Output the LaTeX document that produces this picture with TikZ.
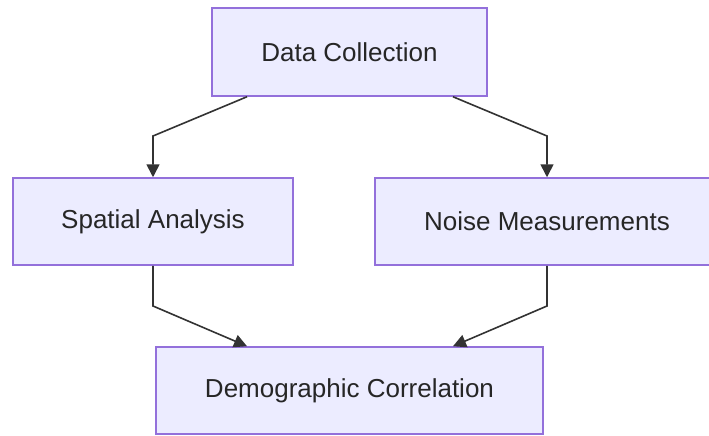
\documentclass[tikz,border=0pt]{standalone}
\usepackage{fontspec}
\setmainfont{Liberation Sans}
\usetikzlibrary{arrows.meta,calc}
\definecolor{boxfill}{HTML}{ECECFF}
\definecolor{boxline}{HTML}{9370DB}
\definecolor{edgeline}{HTML}{333333}
\begin{document}
\begin{tikzpicture}[x=1pt,y=-1pt,
  box/.style={draw=boxline,fill=boxfill,line width=1.5pt,inner sep=0pt,
    font=\fontsize{26}{30}\selectfont,text=black!85},
  edge/.style={draw=edgeline,line width=1.6pt,-{Triangle[length=13pt,width=13pt]}}]
\fill[white] (0,0) rectangle (709,436);
\useasboundingbox (0,0) rectangle (709,436);
\node[box,minimum width=275pt,minimum height=88pt] (dc) at (349.5,52) {Data Collection};
\node[box,minimum width=280pt,minimum height=87pt] (sa) at (153,221.5) {Spatial Analysis};
\node[box,minimum width=344pt,minimum height=87pt] (nm) at (547,221.5) {Noise Measurements};
\node[box,minimum width=387pt,minimum height=87pt] (dm) at (349.5,390.5) {Demographic Correlation};
\coordinate (c1) at (153,136);
\coordinate (c2) at (547,136);
\coordinate (c3) at (153,306);
\coordinate (c4) at (547,306);
\draw[edge] ($(dc.south)+(-102.5,0)$) -- (c1) -- (c1 |- sa.north);
\draw[edge] ($(dc.south)+(103.5,0)$) -- (c2) -- (c2 |- nm.north);
\draw[edge] (sa.south) -- (c3) -- ($(dm.north)+(-102.5,0)$);
\draw[edge] (nm.south) -- (c4) -- ($(dm.north)+(103.5,0)$);
\end{tikzpicture}
\end{document}
